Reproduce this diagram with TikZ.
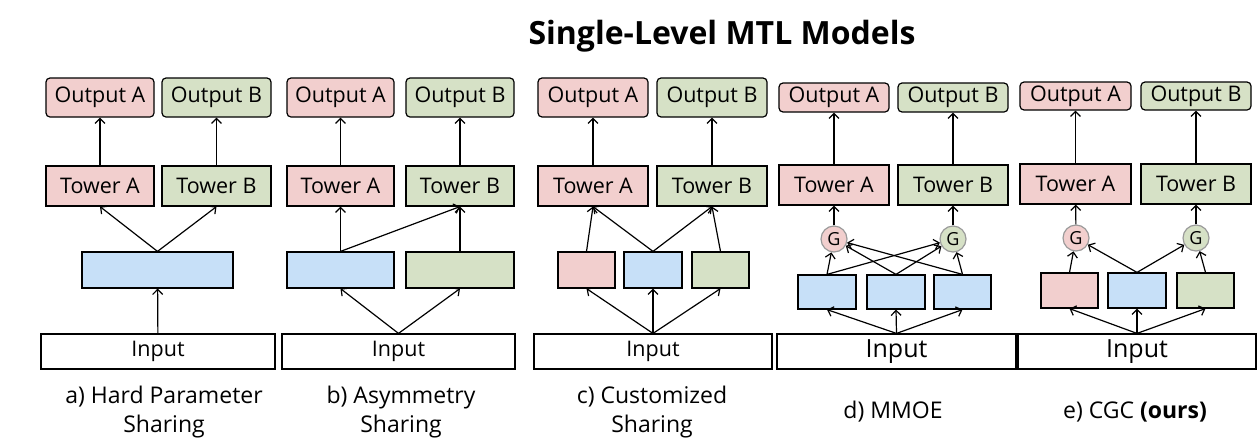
\documentclass[tikz,border=0pt]{standalone}
\usepackage{fontspec}
\setmainfont{Open Sans}
\usepackage{xcolor}
\usepackage{tikz}
\usetikzlibrary{arrows.meta}
\definecolor{pinkA}{HTML}{F2CFCE}
\definecolor{greenB}{HTML}{D6E1C6}
\definecolor{blueS}{HTML}{C7E0F8}
\definecolor{gateline}{HTML}{9A9A9A}

\begin{document}
\begin{tikzpicture}[x=1pt, y=-1pt, line width=1.2pt,
    >={Straight Barb[length=5pt,width=10pt]},
    sz/.style 2 args={minimum width=#1, minimum height=#2},
    box/.style={draw, rectangle, inner sep=0pt, font=\fontsize{21.5}{24}\selectfont},
    outbox/.style={box, rounded corners=4pt},
    bigin/.style={box, font=\fontsize{25}{28}\selectfont},
    gate/.style={draw=gateline, circle, minimum size=26pt, inner sep=0pt, font=\fontsize{18}{20}\selectfont},
    capt/.style={align=center, font=\fontsize{23}{29}\selectfont}]
    \useasboundingbox (0,0) rectangle (1260,440);

    \node[font=\fontsize{32}{34}\selectfont\bfseries] (title) at (722,36) {Single-Level MTL Models};

    % a) hard parameter sharing
    \node[outbox, fill=pinkA, sz={108pt}{39pt}] (aoutA) at (100,97.5) {Output A};
    \node[outbox, fill=greenB, sz={109pt}{39pt}] (aoutB) at (216.5,97.5) {Output B};
    \node[box, fill=pinkA, sz={108pt}{40pt}] (atowA) at (100,186) {Tower A};
    \node[box, fill=greenB, sz={109pt}{40pt}] (atowB) at (216.5,186) {Tower B};
    \node[box, fill=blueS, sz={151pt}{36pt}] (ashared) at (157.5,270) {};
    \node[box, sz={234pt}{35pt}] (ain) at (158,351.5) {Input};
    \draw[->] (ain) -- (ashared);
    \draw[->] (ashared.north) -- (atowA.south);
    \draw[->] (ashared.north) -- (atowB.south);
    \draw[->] (atowA) -- (aoutA);
    \draw[->] (atowB) -- (aoutB);

    % b) asymmetry sharing
    \node[outbox, fill=pinkA, sz={107pt}{39pt}] (boutA) at (340.5,97.5) {Output A};
    \node[outbox, fill=greenB, sz={108pt}{39pt}] (boutB) at (460,97.5) {Output B};
    \node[box, fill=pinkA, sz={107pt}{40pt}] (btowA) at (340.5,186) {Tower A};
    \node[box, fill=greenB, sz={108pt}{40pt}] (btowB) at (460,186) {Tower B};
    \node[box, fill=blueS, sz={107pt}{36pt}] (bsharedA) at (340.5,270) {};
    \node[box, fill=greenB, sz={108pt}{36pt}] (bsharedB) at (460,270) {};
    \node[box, sz={233pt}{35pt}] (bin) at (398.5,351.5) {Input};
    \draw[->] (bin.north) -- (bsharedA.south);
    \draw[->] (bin.north) -- (bsharedB.south);
    \draw[->] (bsharedA.north) -- (btowA.south);
    \draw[->] (bsharedA.north) -- (btowB.south);
    \draw[->] (bsharedB.north) -- (btowB.south);
    \draw[->] (btowA) -- (boutA);
    \draw[->] (btowB) -- (boutB);

    % c) customized sharing
    \node[outbox, fill=pinkA, sz={110pt}{39pt}] (coutA) at (593,97.5) {Output A};
    \node[outbox, fill=greenB, sz={110pt}{39pt}] (coutB) at (712,97.5) {Output B};
    \node[box, fill=pinkA, sz={110pt}{40pt}] (ctowA) at (593,186) {Tower A};
    \node[box, fill=greenB, sz={110pt}{40pt}] (ctowB) at (712,186) {Tower B};
    \node[box, fill=pinkA, sz={57pt}{36pt}] (cexpA) at (586.5,270) {};
    \node[box, fill=blueS, sz={58pt}{36pt}] (cexpS) at (653,270) {};
    \node[box, fill=greenB, sz={57pt}{36pt}] (cexpB) at (720.5,270) {};
    \node[box, sz={238pt}{35pt}] (cin) at (653,351.5) {Input};
    \draw[->] (cin.north) -- (cexpA.south);
    \draw[->] (cin.north) -- (cexpS.south);
    \draw[->] (cin.north) -- (cexpB.south);
    \draw[->] (cexpA.north) -- (ctowA.south);
    \draw[->] (cexpS.north) -- (ctowA.south);
    \draw[->] (cexpS.north) -- (ctowB.south);
    \draw[->] (cexpB.north) -- (ctowB.south);
    \draw[->] (ctowA) -- (coutA);
    \draw[->] (ctowB) -- (coutB);

    % d) MMOE
    \node[outbox, fill=pinkA, sz={110pt}{29pt}] (doutA) at (834,97.5) {Output A};
    \node[outbox, fill=greenB, sz={110pt}{29pt}] (doutB) at (953,97.5) {Output B};
    \node[box, fill=pinkA, sz={110pt}{40pt}] (dtowA) at (834,185) {Tower A};
    \node[box, fill=greenB, sz={110pt}{40pt}] (dtowB) at (953,185) {Tower B};
    \node[gate, fill=pinkA] (dgateA) at (834,239) {G};
    \node[gate, fill=greenB] (dgateB) at (953,239) {G};
    \node[box, fill=blueS, sz={58pt}{34pt}] (dexp1) at (827,292) {};
    \node[box, fill=blueS, sz={58pt}{34pt}] (dexp2) at (896,292) {};
    \node[box, fill=blueS, sz={57pt}{34pt}] (dexp3) at (962.5,292) {};
    \node[bigin, sz={239pt}{35pt}] (din) at (896.5,351.5) {Input};
    \foreach \e in {dexp1,dexp2,dexp3} {
        \draw[->] (din.north) -- (\e.south);
        \draw[->] (\e.north) -- (dgateA);
        \draw[->] (\e.north) -- (dgateB);
    }
    \draw[->] (dgateA) -- (dtowA);
    \draw[->] (dgateB) -- (dtowB);
    \draw[->] (dtowA) -- (doutA);
    \draw[->] (dtowB) -- (doutB);

    % e) CGC
    \node[outbox, fill=pinkA, sz={111pt}{28pt}] (eoutA) at (1075.5,96) {Output A};
    \node[outbox, fill=greenB, sz={110pt}{28pt}] (eoutB) at (1196,96) {Output B};
    \node[box, fill=pinkA, sz={111pt}{40pt}] (etowA) at (1075.5,184) {Tower A};
    \node[box, fill=greenB, sz={110pt}{40pt}] (etowB) at (1196,184) {Tower B};
    \node[gate, fill=pinkA] (egateA) at (1076,238) {G};
    \node[gate, fill=greenB] (egateB) at (1196,238) {G};
    \node[box, fill=pinkA, sz={57pt}{35pt}] (eexpA) at (1069.5,290.5) {};
    \node[box, fill=blueS, sz={58pt}{35pt}] (eexpS) at (1137,290.5) {};
    \node[box, fill=greenB, sz={57pt}{35pt}] (eexpB) at (1205.5,290.5) {};
    \node[bigin, sz={238pt}{35pt}] (ein) at (1137,351.5) {Input};
    \draw[->] (ein.north) -- (eexpA.south);
    \draw[->] (ein.north) -- (eexpS.south);
    \draw[->] (ein.north) -- (eexpB.south);
    \draw[->] (eexpA.north) -- (egateA);
    \draw[->] (eexpS.north) -- (egateA);
    \draw[->] (eexpS.north) -- (egateB);
    \draw[->] (eexpB.north) -- (egateB);
    \draw[->] (egateA) -- (etowA);
    \draw[->] (egateB) -- (etowB);
    \draw[->] (etowA) -- (eoutA);
    \draw[->] (etowB) -- (eoutB);

    % captions
    \node[capt] (capa) at (164,412) {a) Hard Parameter\\Sharing};
    \node[capt] (capb) at (401,412) {b) Asymmetry\\Sharing};
    \node[capt] (capc) at (652,412) {c) Customized\\Sharing};
    \node[capt] (capd) at (893,412) {d) MMOE};
    \node[capt] (cape) at (1135,412) {e) CGC \textbf{(ours)}};
\end{tikzpicture}
\end{document}
